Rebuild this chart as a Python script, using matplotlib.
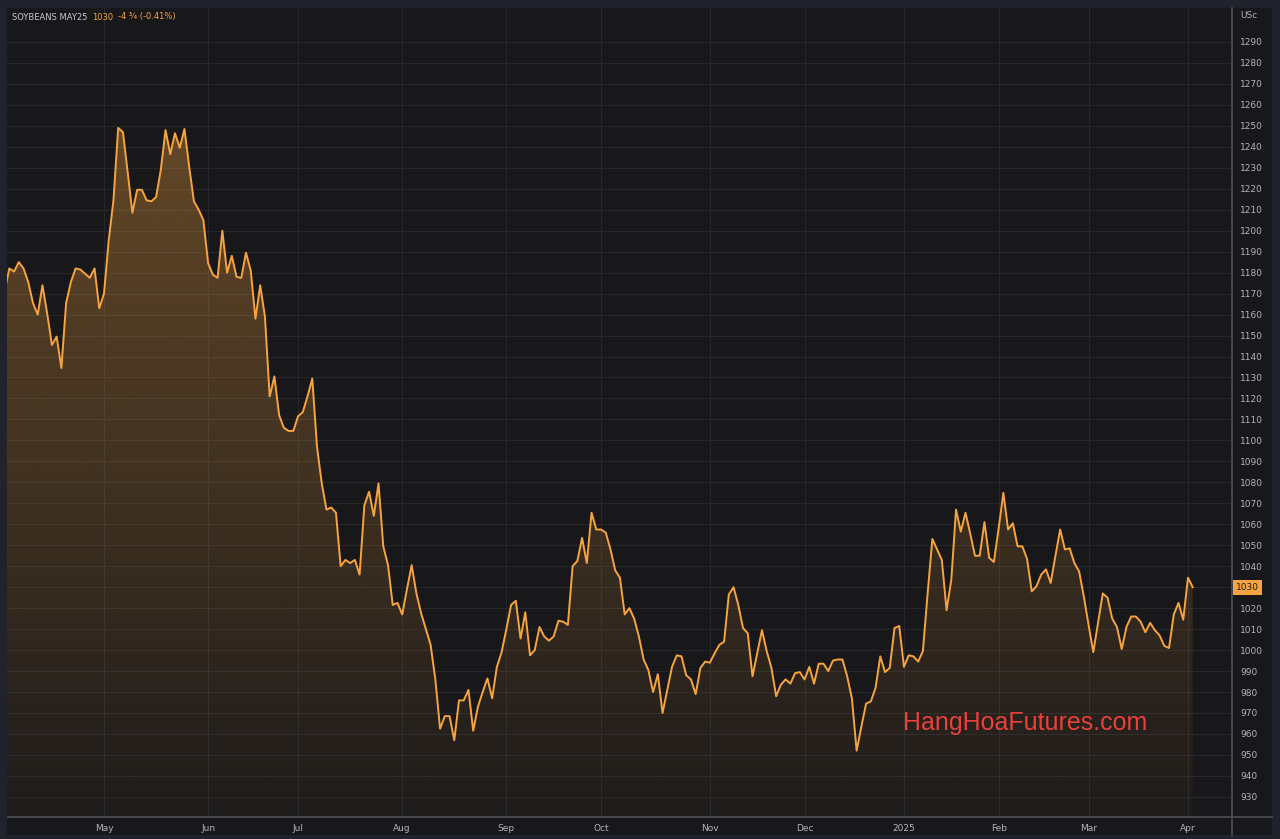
import numpy as np
import matplotlib.pyplot as plt
from matplotlib.colors import LinearSegmentedColormap, to_rgb
from matplotlib.patches import Rectangle
from matplotlib.lines import Line2D

# daily settlement, soybeans May25 (US cents/bu), one value per session
prices = [
    1171, 1182, 1180.5, 1185, 1182, 1175.5, 1165.5, 1160, 1174, 1160.5,
    1145.5, 1149.5, 1134.5, 1165.5, 1175.5, 1182, 1181.5, 1179.5, 1177.5, 1182,
    1163, 1170, 1195.5, 1214.5, 1249, 1247, 1228, 1208.5, 1219.5, 1219.5,
    1214.5, 1214, 1216, 1229, 1248, 1236.5, 1246.5, 1239.5, 1248.5, 1230.5,
    1214, 1210, 1205, 1184.5, 1179, 1177.5, 1200, 1180, 1188, 1178,
    1177.5, 1189.5, 1181, 1158, 1174, 1159, 1121, 1130.5, 1112, 1106,
    1104.5, 1104.5, 1111.5, 1113.5, 1121, 1129.5, 1097, 1079.5, 1067, 1068,
    1065.5, 1040, 1043, 1041.5, 1043, 1036, 1069, 1075.5, 1064, 1079.5,
    1049.5, 1040.5, 1021.5, 1022.5, 1017, 1029, 1040.5, 1027, 1017.5, 1010,
    1002.5, 986, 962.5, 968.5, 968.5, 957, 976, 976, 981, 961.5,
    973, 980, 986.5, 977, 992, 999, 1010, 1021.5, 1023.5, 1005.5,
    1018, 997.5, 1000, 1011, 1006.5, 1004.5, 1006.5, 1014, 1013.5, 1012,
    1040, 1042.5, 1053.5, 1041.5, 1065.5, 1057.5, 1057.5, 1056, 1048, 1038,
    1034.5, 1017, 1020, 1015, 1006.5, 995.5, 990.5, 980, 988.5, 970,
    981, 992, 997.5, 997, 988, 986, 979, 991.5, 994.5, 994,
    998.5, 1002.5, 1004, 1026.5, 1030, 1021.5, 1010.5, 1008, 987.5, 998.5,
    1009.5, 999.5, 991.5, 978, 983.5, 986, 984, 989, 989.5, 986,
    992, 984, 993.5, 993.5, 990, 995, 995.5, 995.5, 987.5, 977,
    952, 963.5, 974.5, 975.5, 982, 997, 989.5, 991.5, 1010.5, 1011.5,
    992, 997.5, 997, 994.5, 999.5, 1027, 1053, 1048, 1043, 1019,
    1033.5, 1067, 1056.5, 1065.5, 1055.5, 1045, 1045, 1061, 1044, 1042,
    1058, 1075, 1057.5, 1060.5, 1049.5, 1049.5, 1043.5, 1028, 1030.5, 1036,
    1038.5, 1032, 1045, 1057.5, 1048, 1048.5, 1041.5, 1037.5, 1025.5, 1012,
    999, 1013, 1027, 1025, 1015, 1011, 1000.5, 1011, 1016, 1016,
    1013.5, 1008.5, 1013, 1009.5, 1007, 1002, 1001, 1017, 1022.5, 1014.5,
    1034.5, 1030,
]
# session number of the first trading day of each month
month_starts = [21, 43, 62, 84, 106, 126, 149, 169, 190, 210, 229, 250]
month_labels = ['May', 'Jun', 'Jul', 'Aug', 'Sep', 'Oct', 'Nov', 'Dec',
                '2025', 'Feb', 'Mar', 'Apr']
price_ticks = list(range(930, 1300, 10))
last_price = 1030

line_color = '#f7a440'
panel_bg = '#18181a'
text_gray = '#b2b5be'
sep_color = '#4d4f55'

x = np.arange(len(prices))
y = np.array(prices)

fig = plt.figure(figsize=(12.8, 8.39), dpi=100, facecolor='#20232b')
fig.patches.append(Rectangle((7 / 1280, 1 - 835 / 839), 1265 / 1280, 827 / 839,
                             transform=fig.transFigure, facecolor=panel_bg,
                             edgecolor='none', zorder=-5))
ax = fig.add_axes([7 / 1280, 22 / 839, 1225 / 1280, 809 / 839])
ax.set_facecolor(panel_bg)

ymin, ymax = 920.4, 1306.2

# gradient area under the line
r, g, b = to_rgb(line_color)
cmap = LinearSegmentedColormap.from_list('area', [(r, g, b, 0.03), (r, g, b, 0.34)])
grad = np.linspace(0, 1, 256).reshape(-1, 1)
im = ax.imshow(grad, extent=[x[0], x[-1], ymin, y.max()], origin='lower',
               aspect='auto', cmap=cmap, zorder=1, interpolation='bilinear')
area = ax.fill_between(x, y, ymin, facecolor='none', edgecolor='none')
im.set_clip_path(area.get_paths()[0], ax.transData)

ax.plot(x, y, color=line_color, lw=1.4, zorder=3, solid_joinstyle='round')
ax.set_xlim(0.51, 259.3)
ax.set_ylim(ymin, ymax)

# grid and scales
ax.set_yticks(price_ticks)
ax.set_yticklabels(['' if p == last_price else str(p) for p in price_ticks])
ax.set_xticks(month_starts)
ax.set_xticklabels(month_labels)
ax.grid(True, color='#26272a', lw=0.8, zorder=0)
ax.set_axisbelow(True)

ax.yaxis.tick_right()
ax.tick_params(axis='y', length=0, pad=6, labelsize=6.5, labelcolor=text_gray)
ax.tick_params(axis='x', length=0, pad=5, labelsize=6.5, labelcolor=text_gray)
for s in ['top', 'left', 'bottom', 'right']:
    ax.spines[s].set_visible(False)

fig.add_artist(Line2D([8 / 1280, 1272 / 1280], [22 / 839, 22 / 839],
                      transform=fig.transFigure, color=sep_color, lw=1.2))
fig.add_artist(Line2D([1232 / 1280, 1232 / 1280], [4 / 839, 831 / 839],
                      transform=fig.transFigure, color=sep_color, lw=1.2))

# last price tag
ax.text(1.0035, last_price, str(last_price), transform=ax.get_yaxis_transform(),
        fontsize=6.5, color='#1a1a1a', va='center', ha='left',
        bbox=dict(boxstyle='square,pad=0.35', facecolor=line_color, edgecolor='none'))

fig.text(1240 / 1280, 1 - 16 / 839, 'USc', fontsize=6.5, color=text_gray, va='center')

# legend header
t1 = fig.text(12 / 1280, 1 - 17 / 839, 'SOYBEANS MAY25', fontsize=6, color='#c8cad0',
              va='center')
t2 = fig.text(0, 0, '1030', fontsize=6, color=line_color, va='center')
t3 = fig.text(0, 0, '-4 ¾ (-0.41%)', fontsize=6, color=line_color, va='center')
fig.canvas.draw()
rend = fig.canvas.get_renderer()
inv = fig.transFigure.inverted()
e1 = t1.get_window_extent(rend)
t2.set_position((inv.transform((e1.x1 + 5, 0))[0], 1 - 17 / 839))
e2 = t2.get_window_extent(rend)
t3.set_position((inv.transform((e2.x1 + 4, 0))[0], 1 - 17 / 839))

fig.text(903 / 1280, 1 - 723 / 839, 'HangHoaFutures.com', fontsize=18,
         family=['Liberation Sans', 'DejaVu Sans'], color='#e8403a', va='center')

fig.savefig('out.png', dpi=100, facecolor=fig.get_facecolor())
